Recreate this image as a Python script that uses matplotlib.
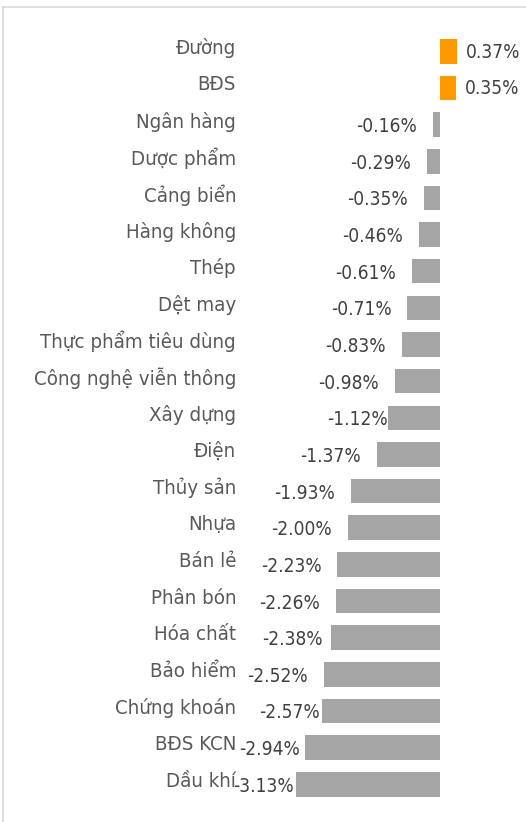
import matplotlib
matplotlib.use('Agg')
import matplotlib.pyplot as plt
import matplotlib.transforms as mtransforms
from matplotlib.lines import Line2D

sectors = ['Đường', 'BĐS', 'Ngân hàng', 'Dược phẩm', 'Cảng biển', 'Hàng không',
           'Thép', 'Dệt may', 'Thực phẩm tiêu dùng', 'Công nghệ viễn thông',
           'Xây dựng', 'Điện', 'Thủy sản', 'Nhựa', 'Bán lẻ', 'Phân bón',
           'Hóa chất', 'Bảo hiểm', 'Chứng khoán', 'BĐS KCN', 'Dầu khí']
changes = [0.37, 0.35, -0.16, -0.29, -0.35, -0.46, -0.61, -0.71, -0.83, -0.98,
           -1.12, -1.37, -1.93, -2.00, -2.23, -2.26, -2.38, -2.52, -2.57, -2.94, -3.13]

# a few labels sit closer to their bar in the original (px gap)
label_gap = {'Xây dựng': 1, 'Hóa chất': 8, 'Chứng khoán': 2, 'BĐS KCN': 5, 'Dầu khí': 2}

plt.rcParams['font.family'] = ['DejaVu Sans']
plt.rcParams['font.stretch'] = 'condensed'

W, H = 526, 822
PT = 72 / 100  # points per pixel
fig = plt.figure(figsize=(W / 100, H / 100), dpi=100)
# zero at x=440px, 46 px per 1%
ax = fig.add_axes([265.2 / W, (H - 802.6) / H, 5.6 * 46 / W, 769.6 / H])
ax.set_xlim(-3.8, 1.8)
ax.set_ylim(len(sectors) - 0.5, -0.5)

pos = list(range(len(sectors)))
colors = ['#FF9900' if v > 0 else '#A5A5A5' for v in changes]
ax.barh(pos, changes, height=0.67, color=colors)

for i, v in enumerate(changes):
    label = '{:.2f}%'.format(v)
    if v > 0:
        ax.annotate(label, (v, i), xytext=(9 * PT, -1 * PT), textcoords='offset points',
                    ha='left', va='center', fontsize=13.7, color='#404040')
    else:
        gap = label_gap.get(sectors[i], 16)
        ax.annotate(label, (v, i), xytext=(-gap * PT, -2 * PT), textcoords='offset points',
                    ha='right', va='center', fontsize=13.7, color='#404040')

ax.set_yticks(pos)
ax.set_yticklabels(sectors, fontsize=14.7, color='#595959')
ax.tick_params(axis='y', length=0, pad=21)
shift = mtransforms.ScaledTranslation(0, 5 / 100, fig.dpi_scale_trans)
for t in ax.get_yticklabels():
    t.set_transform(t.get_transform() + shift)
ax.set_xticks([])
for s in ax.spines.values():
    s.set_visible(False)

# light frame (top and left edges visible)
fig.add_artist(Line2D([3 / W, 1], [1 - 7 / H, 1 - 7 / H], color='#D9D9D9', lw=1.2))
fig.add_artist(Line2D([3 / W, 3 / W], [0, 1 - 7 / H], color='#D9D9D9', lw=1.2))

fig.savefig('out.png', dpi=100)
